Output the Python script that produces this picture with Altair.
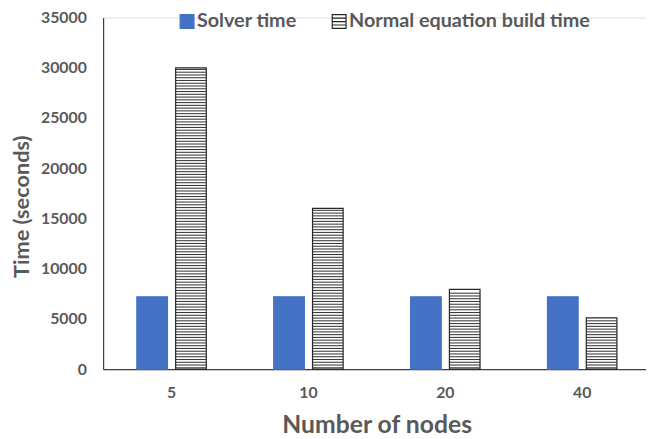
import altair as alt
import pandas as pd

categories = ["5", "10", "20", "40"]
series_names = ["Solver time", "Normal equation build time"]
solver_time = [7200, 7200, 7200, 7200]
normal_build_time = [30000, 16000, 7950, 5100]

rows = []
for c, s, n in zip(categories, solver_time, normal_build_time):
    rows.append({"nodes": c, "series": series_names[0], "time": s})
    rows.append({"nodes": c, "series": series_names[1], "time": n})
df = pd.DataFrame(rows)

# horizontal hatching for the "Normal equation build time" bars
PERIOD = 275
THICK = 105
stripes = []
for c, n in zip(categories, normal_build_time):
    k = 0
    while k * PERIOD + PERIOD <= n + 1:
        lo = k * PERIOD + (PERIOD - THICK) / 2
        stripes.append({"nodes": c, "series": series_names[1], "y0": lo, "y1": lo + THICK})
        k += 1
sdf = pd.DataFrame(stripes)

FONT = "Lato"
GREY = "#595959"

x_enc = alt.X("nodes:N", sort=categories,
              scale=alt.Scale(paddingInner=0, paddingOuter=0),
              axis=alt.Axis(title="Number of nodes", labelAngle=0, ticks=False, tickSize=0,
                            labelPadding=29, labelBaseline="alphabetic",
                            labelFontSize=16, labelFont=FONT,
                            labelFontWeight="bold", labelColor=GREY,
                            titleFontSize=25, titleFont=FONT, titleFontWeight="bold",
                            titleColor=GREY, titleX=277, titleY=64,
                            titleBaseline="alphabetic",
                            titleAnchor="start", titleAlign="center",
                            domainColor="#404040", domainWidth=1.2))
xo_enc = alt.XOffset("series:N", sort=series_names,
                     scale=alt.Scale(paddingInner=0.211, paddingOuter=0.869))

y_scale = alt.Scale(domain=[0, 35000], nice=False)

hatch_path = "M-1,-1H1V1H-1Z M-1,-0.5H1 M-1,0H1 M-1,0.5H1"
leg = alt.Legend(title=None, orient="none", legendX=75, legendY=-6, direction="horizontal",
                 symbolType=hatch_path, symbolSize=196, symbolStrokeWidth=1.2,
                 labelFont=FONT, labelFontSize=20, labelFontWeight="bold", labelColor=GREY,
                 labelOffset=0, columnPadding=33, labelLimit=400)

stripe_layer = alt.Chart(sdf).mark_bar(color="#3a3a3a").encode(
    x=x_enc, xOffset=xo_enc,
    y=alt.Y("y0:Q", scale=y_scale),
    y2="y1:Q",
)

bars = alt.Chart(df).mark_bar(strokeWidth=1.2).encode(
    x=x_enc, xOffset=xo_enc,
    y=alt.Y("time:Q", scale=y_scale,
            axis=alt.Axis(title="Time (seconds)", values=list(range(0, 35001, 5000)),
                          format="d",
                          grid=False, ticks=False, tickSize=0, labelPadding=17,
                          labelFontSize=16, labelFont=FONT, labelFontWeight="bold",
                          labelColor=GREY, titleFontSize=22, titleFont=FONT,
                          titleFontWeight="bold", titleColor=GREY,
                          titleX=-83, titleY=191, titleAngle=270, titleAlign="center",
                          titleBaseline="middle", titleAnchor="start",
                          domainColor="#404040", domainWidth=1.2)),
    fill=alt.Fill("series:N", sort=series_names,
                  scale=alt.Scale(domain=series_names, range=["#4472C4", "transparent"]),
                  legend=leg),
    stroke=alt.Stroke("series:N", sort=series_names,
                      scale=alt.Scale(domain=series_names, range=["#4472C4", "#262626"]),
                      legend=leg),
)

chart = alt.layer(stripe_layer, bars).properties(
    width=554.4, height=356,
    padding={"left": 96.3, "top": 7, "right": -4.7, "bottom": 68},
    autosize=alt.AutoSizeParams(type="none"),
).configure_view(stroke=None).configure(background="white")

chart.save("out.html", embed_options={"renderer": "svg", "actions": False})
